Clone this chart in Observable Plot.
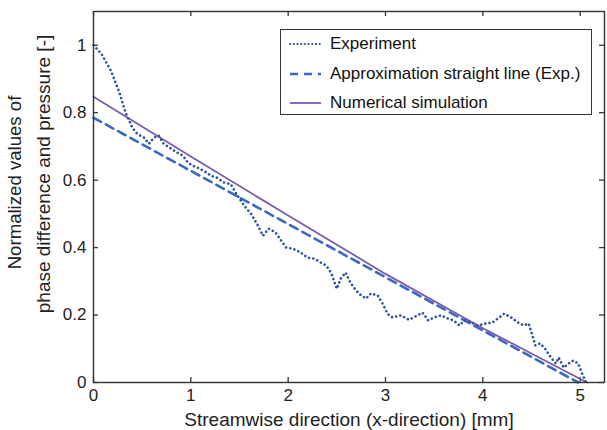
<!DOCTYPE html>
<html>
<head>
<meta charset="utf-8">
<script src="https://cdn.jsdelivr.net/npm/d3@7"></script>
<script src="https://cdn.jsdelivr.net/npm/@observablehq/plot@0.6"></script>
<style>
  html, body { margin: 0; padding: 0; background: #fff; }
  #wrap { position: relative; width: 607px; height: 430px; font-family: "Liberation Sans", Arial, sans-serif; }
  #legend { position: absolute; left: 280px; top: 29px; width: 312px; height: 86px; border: 1.5px solid #333; background: #fff; box-sizing: border-box; }
  .row { position: absolute; left: 0; height: 20px; display: flex; align-items: center; }
  .row svg { margin-left: 7px; }
  .row span { margin-left: 8px; font-size: 17px; color: #111; white-space: nowrap; }
</style>
</head>
<body>
<div id="wrap"></div>
<script>
// ---- data ----
const xTicks = [0, 1, 2, 3, 4, 5];
const yTicks = [0, 0.2, 0.4, 0.6, 0.8, 1];
const xLabel = "Streamwise direction (x-direction) [mm]";
const yLabel1 = "Normalized values of";
const yLabel2 = "phase difference and pressure [-]";
const seriesNames = ["Experiment", "Approximation straight line (Exp.)", "Numerical simulation"];

const expX = [0.00, 0.08, 0.18, 0.26, 0.33, 0.40, 0.45, 0.52, 0.57, 0.62, 0.67, 0.72, 0.83, 0.92, 0.97, 1.02, 1.07, 1.13, 1.21, 1.27,
  1.34, 1.41, 1.48, 1.55, 1.62, 1.69, 1.74, 1.80, 1.87, 1.93, 1.98, 2.05, 2.13, 2.20, 2.27, 2.34, 2.39, 2.44, 2.47, 2.50,
  2.54, 2.59, 2.64, 2.70, 2.75, 2.80, 2.85, 2.92, 2.97, 3.02, 3.07, 3.16, 3.24, 3.33, 3.38, 3.44, 3.50, 3.57, 3.64, 3.70,
  3.76, 3.81, 3.88, 3.95, 4.03, 4.10, 4.17, 4.22, 4.29, 4.36, 4.42, 4.47, 4.51, 4.54, 4.59, 4.64, 4.70, 4.75, 4.78, 4.83,
  4.88, 4.93, 4.98, 5.02, 5.06];
const expY = [1.000, 0.975, 0.924, 0.865, 0.800, 0.755, 0.737, 0.726, 0.708, 0.726, 0.732, 0.708, 0.687, 0.672, 0.652, 0.643, 0.637, 0.628, 0.613, 0.607,
  0.593, 0.588, 0.554, 0.524, 0.500, 0.465, 0.435, 0.456, 0.445, 0.420, 0.400, 0.397, 0.385, 0.370, 0.367, 0.355, 0.347, 0.326, 0.302, 0.278,
  0.308, 0.326, 0.296, 0.272, 0.258, 0.249, 0.264, 0.258, 0.234, 0.204, 0.193, 0.199, 0.186, 0.199, 0.207, 0.184, 0.193, 0.199, 0.190, 0.184,
  0.169, 0.184, 0.178, 0.169, 0.175, 0.178, 0.193, 0.204, 0.193, 0.178, 0.169, 0.175, 0.139, 0.110, 0.116, 0.100, 0.074, 0.056, 0.074, 0.044,
  0.056, 0.065, 0.056, 0.027, 0.000];

const approxX = [0, 4.98];
const approxY = [0.785, 0];

const simX = [0, 1, 2, 3, 4, 5.07];
const simY = [0.847, 0.670, 0.495, 0.322, 0.161, 0];

const colors = ["#2d52a2", "#3a69bf", "#7d5aae"];

// ---- build ----
const exp = expX.map((x, i) => ({x, y: expY[i]}));
const approx = approxX.map((x, i) => ({x, y: approxY[i]}));
const sim = simX.map((x, i) => ({x, y: simY[i]}));

const xDom = [0, 5.25], yDom = [0, 1.1];
const W = 607, H = 430, mL = 93, mR = 3, mT = 11, mB = 48;
const tickPx = 5;
const kx = (xDom[1] - xDom[0]) / (W - mL - mR);
const ky = (yDom[1] - yDom[0]) / (H - mT - mB);
const font = '"Liberation Sans", Arial, sans-serif';

const chart = Plot.plot({
  width: W, height: H,
  marginLeft: mL, marginRight: mR, marginTop: mT, marginBottom: mB,
  style: {fontFamily: font, fontSize: "17px", color: "#222", background: "#fff"},
  x: {domain: xDom, ticks: xTicks, label: null},
  y: {domain: yDom, ticks: yTicks, label: null},
  marks: [
    Plot.axisX(xTicks, {tickSize: 0, tickPadding: 6, fontSize: 17, tickFormat: d => String(d), label: null}),
    Plot.axisY(yTicks, {tickSize: 0, tickPadding: 7, fontSize: 17, tickFormat: d => String(d), label: null}),
    // inward ticks on all four sides
    Plot.ruleX(xTicks, {x: d => d, y1: yDom[0], y2: yDom[0] + tickPx * ky, stroke: "#333", strokeWidth: 1.3}),
    Plot.ruleX(xTicks, {x: d => d, y1: yDom[1], y2: yDom[1] - tickPx * ky, stroke: "#333", strokeWidth: 1.3}),
    Plot.ruleY(yTicks, {y: d => d, x1: xDom[0], x2: xDom[0] + tickPx * kx, stroke: "#333", strokeWidth: 1.3}),
    Plot.ruleY(yTicks, {y: d => d, x1: xDom[1], x2: xDom[1] - tickPx * kx, stroke: "#333", strokeWidth: 1.3}),
    Plot.line(approx, {x: "x", y: "y", stroke: colors[1], strokeWidth: 2.6, strokeDasharray: "8.5,5.5"}),
    Plot.line(sim, {x: "x", y: "y", stroke: colors[2], strokeWidth: 1.8}),
    Plot.line(exp, {x: "x", y: "y", stroke: colors[0], strokeWidth: 2.6, strokeDasharray: "0.1,4.2", strokeLinecap: "round", strokeLinejoin: "round"}),
    Plot.frame({stroke: "#333", strokeWidth: 1.4}),
    Plot.text([xLabel], {frameAnchor: "bottom", lineAnchor: "middle", textAnchor: "middle", dy: 37.5, fontSize: 19, fill: "#222", text: d => d}),
    Plot.text([yLabel1], {frameAnchor: "left", lineAnchor: "middle", textAnchor: "middle", dx: -78, dy: -14.5, rotate: -90, fontSize: 18.6, fill: "#222", text: d => d}),
    Plot.text([yLabel2], {frameAnchor: "left", lineAnchor: "middle", textAnchor: "middle", dx: -50, dy: -23, rotate: -90, fontSize: 19, fill: "#222", text: d => d})
  ]
});

const wrap = document.getElementById("wrap");
wrap.appendChild(chart);

// legend (inside the plot, top right)
const legend = document.createElement("div");
legend.id = "legend";
const styles = [
  {dash: "0.1,3.6", w: 2.2, cap: "round"},
  {dash: "8,6", w: 2.6, cap: "butt"},
  {dash: null, w: 1.8, cap: "butt"}
];
const rowTops = [4, 34, 63];
seriesNames.forEach((name, i) => {
  const row = document.createElement("div");
  row.className = "row";
  row.style.top = rowTops[i] + "px";
  const s = styles[i];
  row.innerHTML = `<svg width="34" height="10"><line x1="2" y1="5" x2="33" y2="5" stroke="${colors[i]}" stroke-width="${s.w}" ${s.dash ? `stroke-dasharray="${s.dash}"` : ""} stroke-linecap="${s.cap}"/></svg><span>${name}</span>`;
  legend.appendChild(row);
});
wrap.appendChild(legend);
</script>
</body>
</html>
